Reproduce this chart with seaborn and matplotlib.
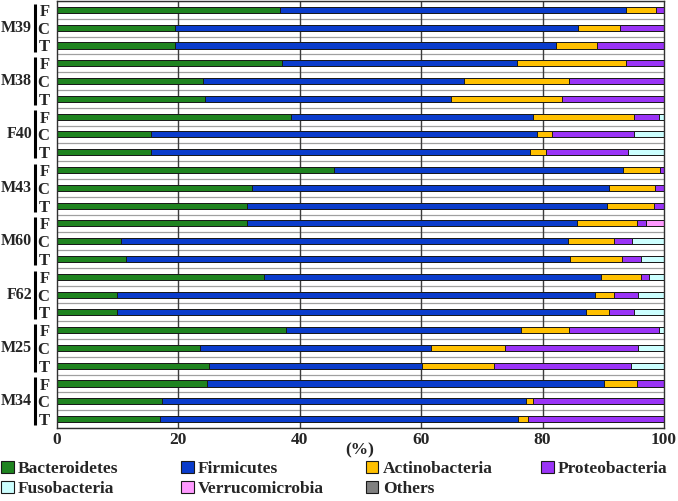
import pandas as pd
import matplotlib
matplotlib.use("Agg")
import matplotlib.pyplot as plt
import seaborn as sns
from matplotlib.patches import Patch
from matplotlib import transforms

# samples, top to bottom
groups = ["M39", "M38", "F40", "M43", "M60", "F62", "M25", "M34"]
sites = ["F", "C", "T"]

# relative abundance (%) per phylum, one value per bar (group x site)
bacteroidetes = [36.8, 19.5, 19.5, 37.1, 24.1, 24.5, 38.6, 15.5, 15.5, 45.6, 32.2, 31.4,
                 31.4, 10.6, 11.4, 34.2, 10.0, 10.0, 37.8, 23.7, 25.1, 24.7, 17.3, 17.1]
firmicutes = [56.9, 66.4, 62.7, 38.7, 43.0, 40.4, 39.9, 63.6, 62.5, 47.7, 58.7, 59.2,
              54.2, 73.6, 73.2, 55.5, 78.6, 77.1, 38.6, 37.9, 35.1, 65.4, 60.0, 58.9]
actinobacteria = [5.0, 6.9, 6.7, 18.0, 17.2, 18.3, 16.6, 2.4, 2.5, 6.0, 7.6, 7.8,
                  10.0, 7.5, 8.5, 6.5, 3.1, 3.9, 8.0, 12.3, 11.8, 5.5, 1.2, 1.6]
proteobacteria = [1.3, 7.2, 11.1, 6.2, 15.7, 16.8, 4.1, 13.5, 13.5, 0.7, 1.5, 1.6,
                  1.5, 3.1, 3.1, 1.4, 4.0, 4.1, 14.8, 21.9, 22.5, 4.4, 21.5, 22.4]
fusobacteria = [0.0, 0.0, 0.0, 0.0, 0.0, 0.0, 0.8, 5.0, 6.0, 0.0, 0.0, 0.0,
                0.0, 5.2, 3.8, 2.4, 4.3, 4.9, 0.8, 4.2, 5.5, 0.0, 0.0, 0.0]
verrucomicrobia = [0.0, 0.0, 0.0, 0.0, 0.0, 0.0, 0.0, 0.0, 0.0, 0.0, 0.0, 0.0,
                   2.9, 0.0, 0.0, 0.0, 0.0, 0.0, 0.0, 0.0, 0.0, 0.0, 0.0, 0.0]
others = [0.0] * 24

phyla = ["Bacteroidetes", "Firmicutes", "Actinobacteria", "Proteobacteria",
         "Fusobacteria", "Verrucomicrobia", "Others"]
colors = ["#1f8420", "#0a3ccc", "#ffc000", "#9a34f6", "#ccffff", "#ff99ff", "#808080"]

FONT = ["Liberation Serif", "DejaVu Serif"]


def build_frame():
    rows = [f"{g}-{s}" for g in groups for s in sites]
    df = pd.DataFrame({"row": rows})
    vals = [bacteroidetes, firmicutes, actinobacteria, proteobacteria,
            fusobacteria, verrucomicrobia, others]
    for name, v in zip(phyla, vals):
        df[name] = v
    # cumulative ends for stacking
    cum = df[phyla].cumsum(axis=1)
    for name in phyla:
        df[name + "_end"] = cum[name]
    return df


def main():
    sns.set_style("white")
    plt.rcParams["font.family"] = FONT
    plt.rcParams["font.weight"] = "bold"

    df = build_frame()
    order = list(df["row"])

    fig = plt.figure(figsize=(6.78, 5.01), dpi=100)
    ax = fig.add_axes([56.5 / 678, 1 - 428 / 501, 607.5 / 678, 427 / 501])

    # background grid
    for k in range(25):
        ax.axhline(k - 0.5, color="#a0a0a0", lw=0.9, zorder=0)
    for xv in [20, 40, 60, 80]:
        ax.axvline(xv, color="#3c3c3c", lw=1.0, zorder=0.5)

    # stacked bars: draw from the outermost cumulative sum inward
    for name, c in reversed(list(zip(phyla, colors))):
        sns.barplot(data=df, x=name + "_end", y="row", order=order, orient="h",
                    color=c, saturation=1, width=0.34, errorbar=None,
                    edgecolor="#1a1a1a", linewidth=0.7, ax=ax, zorder=2)

    ax.set_xlim(0, 100)
    ax.set_ylim(23.5, -0.5)
    ax.set_xticks([0, 20, 40, 60, 80, 100])
    ax.set_xticklabels(["0", "20", "40", "60", "80", "100"], fontsize=12.5, fontweight="bold")
    ax.set_yticks(range(24))
    ax.set_yticklabels(sites * len(groups), fontsize=12, fontweight="bold")
    ax.tick_params(axis="x", length=0, pad=3)
    ax.tick_params(axis="y", length=0, pad=5)
    ax.set_xlabel("")
    ax.set_ylabel("")
    fig.text(360 / 678, 1 - 450 / 501, "(%)", ha="center", va="center",
             fontsize=12.5, fontweight="bold")
    for sp in ax.spines.values():
        sp.set_color("#303030")
        sp.set_linewidth(1.0)

    # group labels and brackets
    trans = transforms.blended_transform_factory(fig.transFigure, ax.transData)
    for i, g in enumerate(groups):
        mid = i * 3 + 1
        ax.text(32 / 678, mid, g, transform=trans, ha="right", va="center",
                fontsize=11.5, fontweight="bold")
        ax.plot([34.5 / 678, 34.5 / 678], [mid - 1.35, mid + 1.35], transform=trans,
                color="black", lw=2.2, clip_on=False, solid_capstyle="butt")

    # legend: one column per legend so the columns sit where the reference has them
    handles = [Patch(facecolor=c, edgecolor="#1a1a1a", linewidth=0.8, label=p)
               for p, c in zip(phyla, colors)]
    col_x = [1, 181, 366, 541]
    cols = [[0, 4], [1, 5], [2, 6], [3]]
    for x0, items in zip(col_x, cols):
        fig.legend([handles[i] for i in items], [phyla[i] for i in items],
                   loc="upper left", bbox_to_anchor=(x0 / 678, 1 - 461 / 501),
                   ncol=1, frameon=False, borderpad=0, borderaxespad=0,
                   prop={"family": FONT, "weight": "bold", "size": 12.5},
                   handlelength=0.72, handleheight=0.72, handletextpad=0.25,
                   labelspacing=0.22)

    fig.savefig("out.png", dpi=100)
    plt.close(fig)


if __name__ == "__main__":
    main()
